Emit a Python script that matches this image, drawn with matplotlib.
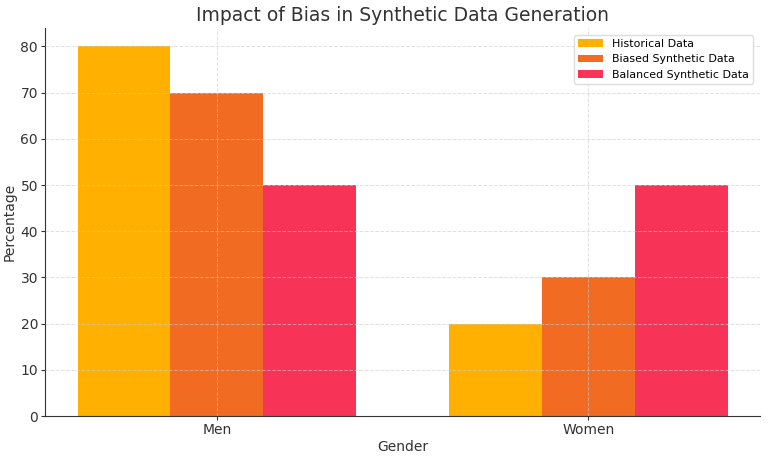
import numpy as np
import matplotlib.pyplot as plt

generos = ['Men', 'Women']
historico = [80, 20]
enviesado = [70, 30]
balanceado = [50, 50]
series = ['Historical Data', 'Biased Synthetic Data', 'Balanced Synthetic Data']
cores = ['#FFB000', '#F26B22', '#F73357']

x = np.arange(len(generos))
largura = 0.25

fig = plt.figure(figsize=(7.68, 4.58), dpi=100)
ax = fig.add_axes([0.0586, 0.0917, 0.931, 0.8472])

for i, (valores, nome) in enumerate(zip([historico, enviesado, balanceado], series)):
    ax.bar(x + (i - 1) * largura, valores, largura, label=nome, color=cores[i])

ax.set_title('Impact of Bias in Synthetic Data Generation', fontsize=13.5, color='#333333', pad=5)
ax.set_xlabel('Gender', fontsize=10, color='#333333', labelpad=2)
ax.set_ylabel('Percentage', fontsize=10, color='#333333', labelpad=3)
ax.set_xticks(x)
ax.set_xticklabels(generos)
ax.tick_params(colors='#333333', labelsize=10, length=3, pad=2)
ax.set_axisbelow(False)
ax.grid(True, linestyle='--', color='#cccccc', linewidth=0.7, alpha=0.6)
for lado in ['top', 'right']:
    ax.spines[lado].set_visible(False)
for lado in ['left', 'bottom']:
    ax.spines[lado].set_color('#333333')
ax.legend(loc='upper right', fontsize=7.9, framealpha=1, edgecolor='#dddddd',
          handlelength=2.3, borderaxespad=0.6)

plt.savefig('out.png', dpi=100)
